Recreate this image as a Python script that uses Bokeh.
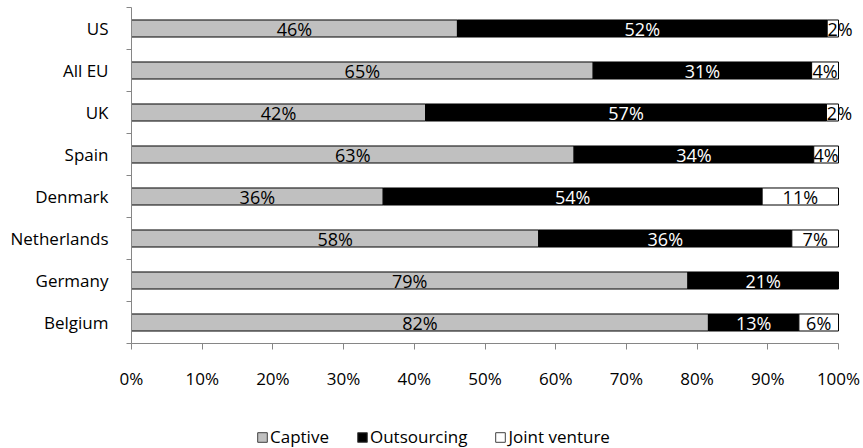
from bokeh.plotting import figure
from bokeh.layouts import column
from bokeh.models import ColumnDataSource, FixedTicker, Legend, LegendItem
from bokeh.core.properties import value
from bokeh.embed import file_html
from bokeh.resources import INLINE

# Share of delivery model per country (percent), listed bottom to top
countries = ["Belgium", "Germany", "Netherlands", "Denmark", "Spain", "UK", "All EU", "US"]
captive = [81.6, 78.7, 57.6, 35.6, 62.6, 41.6, 65.3, 46.1]
outsourcing = [12.8, 21.3, 35.8, 53.6, 33.9, 56.7, 30.9, 52.3]
joint_venture = [5.6, 0.0, 6.6, 10.8, 3.5, 1.7, 3.8, 1.6]

series_names = ["Captive", "Outsourcing", "Joint venture"]
series_fill = ["#c0c0c0", "#000000", "#ffffff"]
series_text = ["#000000", "#ffffff", "#000000"]

x_ticks = [0, 10, 20, 30, 40, 50, 60, 70, 80, 90, 100]
x_tick_labels = [f"{t}%" for t in x_ticks]

FONT = "Open Sans"
AXIS_GREY = "#868686"

ypos = list(range(len(countries)))

# the frame runs a little past 100% so that labels of thin end segments stay visible
PX_PER_PCT = 7.07
FRAME_W = 731
x_end = FRAME_W / PX_PER_PCT

TOTAL_W, TOTAL_H = 863, 448
MAIN_H = 423

p = figure(
    width=TOTAL_W, height=MAIN_H,
    frame_width=FRAME_W, frame_height=336,
    x_range=(0, x_end), y_range=(-0.5, len(countries) - 0.5),
    output_backend="svg", toolbar_location=None,
    min_border_left=131, min_border_right=1,
    min_border_top=7, min_border_bottom=MAIN_H - 7 - 336,
)
p.outline_line_color = None
p.grid.grid_line_color = None
p.background_fill_color = "white"
p.border_fill_color = "white"

# stacked segments; labels sit in the middle of each segment, or start at the
# left edge of segments too thin to hold them
left = [0.0] * len(countries)
label_x, label_y, label_t, label_c, label_a = [], [], [], [], []
for vals, fill, tcol in zip([captive, outsourcing, joint_venture], series_fill, series_text):
    right = [l + v for l, v in zip(left, vals)]
    src = ColumnDataSource(dict(y=ypos, left=left, right=right))
    p.hbar(y="y", left="left", right="right", height=0.405, source=src,
           fill_color=fill, line_color="black", line_width=1)
    for yy, l, v in zip(ypos, left, vals):
        if v > 0:
            thin = v < 3
            label_x.append(l + 0.05 if thin else l + v / 2)
            label_y.append(yy)
            label_t.append(f"{v:.0f}%")
            label_c.append(tcol)
            label_a.append("left" if thin else "center")
    left = right

lab_src = ColumnDataSource(dict(x=label_x, y=label_y, t=label_t, c=label_c, a=label_a))
p.text(x="x", y="y", text="t", text_color="c", text_align="a", source=lab_src,
       text_baseline="middle",
       text_font=value(FONT), text_font_size="18px")

# x axis (percent)
xa = p.xaxis[0]
xa.ticker = FixedTicker(ticks=x_ticks)
xa.bounds = (0, 100)
xa.major_label_overrides = {t: s for t, s in zip(x_ticks, x_tick_labels)}
xa.axis_line_color = AXIS_GREY
xa.major_tick_line_color = AXIS_GREY
xa.major_tick_in = 0
xa.major_tick_out = 6
xa.minor_tick_line_color = None
xa.major_label_standoff = 17
xa.major_label_text_font = FONT
xa.major_label_text_font_size = "17px"
xa.major_label_text_color = "black"

# y axis (countries), tick marks sit between categories
ya = p.yaxis[0]
ya.ticker = FixedTicker(ticks=ypos, minor_ticks=[i - 0.5 for i in range(len(countries) + 1)])
ya.major_label_overrides = {i: c for i, c in enumerate(countries)}
ya.axis_line_color = AXIS_GREY
ya.major_tick_line_color = None
ya.major_tick_out = 5
ya.minor_tick_line_color = AXIS_GREY
ya.minor_tick_in = 0
ya.minor_tick_out = 5
ya.major_label_standoff = 18
ya.major_label_text_font = FONT
ya.major_label_text_font_size = "17px"
ya.major_label_text_color = "black"

# legend strip underneath the chart
leg_fig = figure(
    width=TOTAL_W, height=TOTAL_H - MAIN_H,
    x_range=(0, 1), y_range=(0, 1),
    output_backend="svg", toolbar_location=None,
    min_border=0,
)
leg_fig.axis.visible = False
leg_fig.grid.visible = False
leg_fig.outline_line_color = None
leg_fig.background_fill_color = "white"
leg_fig.border_fill_color = "white"

# one swatch bar per series, parked outside the visible range; only its legend entry shows
items = []
for name, fill in zip(series_names, series_fill):
    r = leg_fig.hbar(y=[-10], left=[0], right=[1], height=0.4,
                     fill_color=fill, line_color="#404040", line_width=1)
    items.append(LegendItem(label=name, renderers=[r]))

legend = Legend(
    items=items, orientation="horizontal", location=(125, 0),
    label_text_font=FONT, label_text_font_size="17px", label_text_color="black",
    glyph_width=12, glyph_height=12, label_standoff=2, spacing=27,
    border_line_color=None, background_fill_alpha=0,
    margin=0, padding=0,
)
leg_fig.add_layout(legend, "center")

layout = column(p, leg_fig, spacing=0)
open("out.html", "w").write(file_html(layout, INLINE))
